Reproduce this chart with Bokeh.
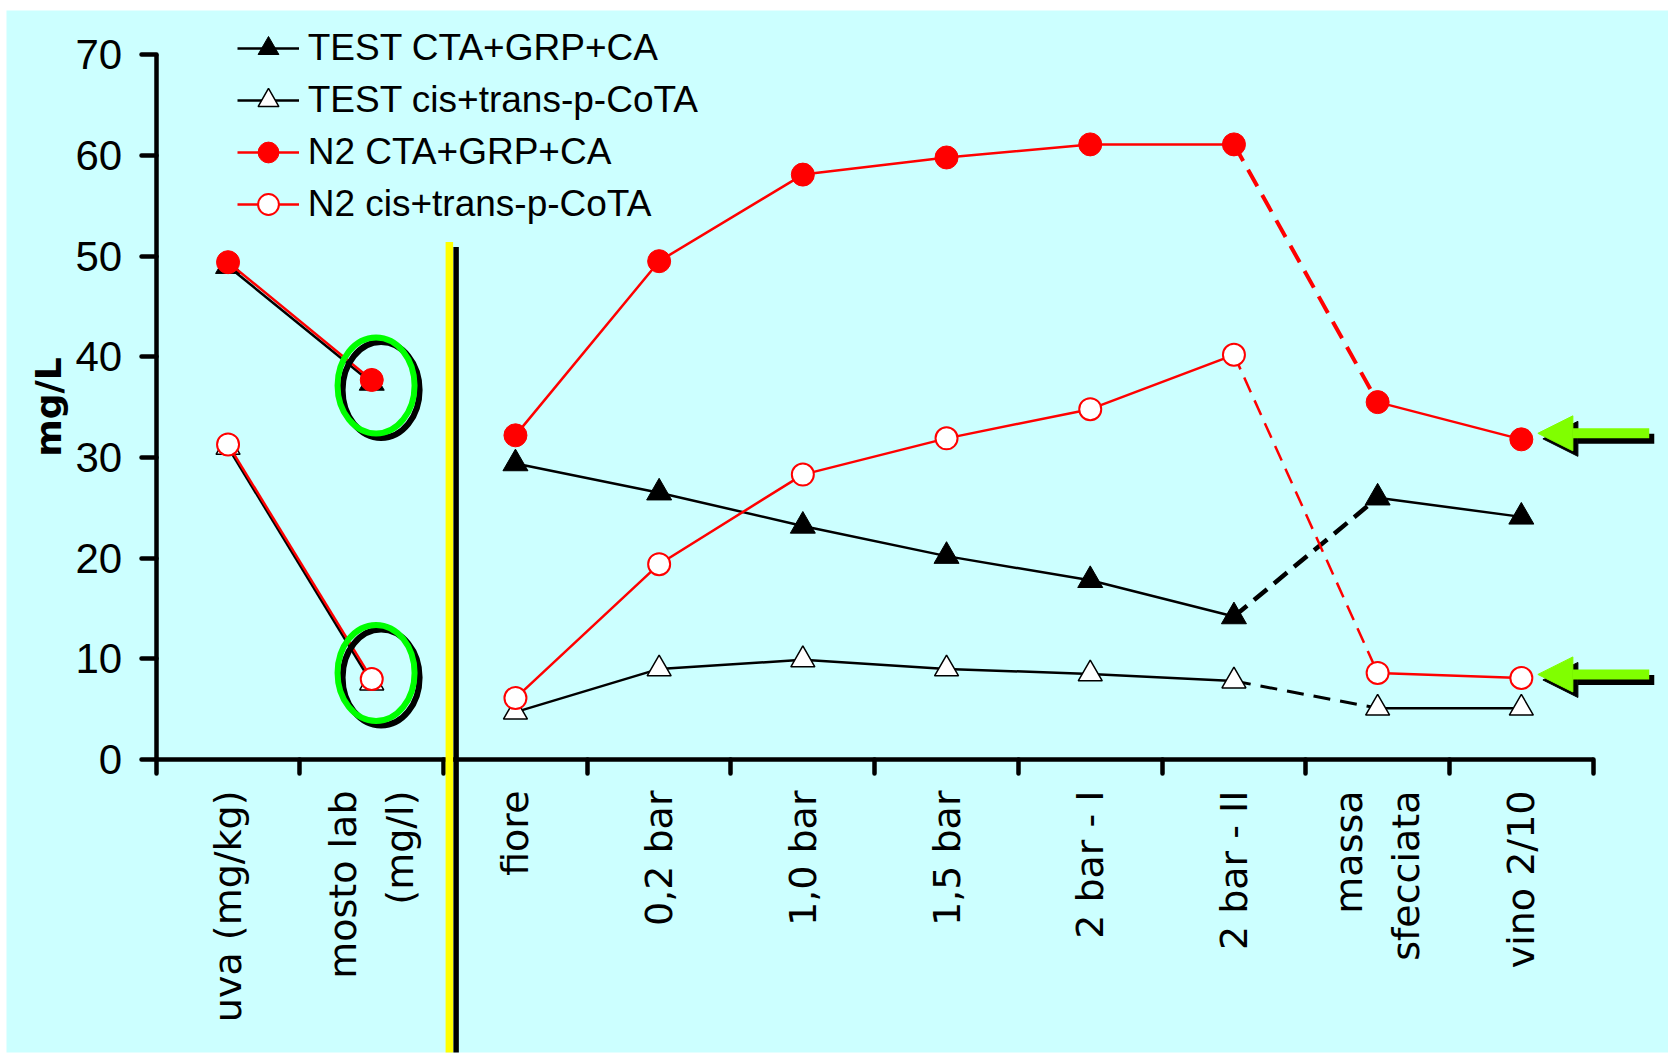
import math
from bokeh.plotting import figure
from bokeh.models import Range1d, FixedTicker, Legend, LegendItem, Arrow, NormalHead
from bokeh.embed import file_html
from bokeh.resources import INLINE

# ---------------- data ----------------
categories = ["uva (mg/kg)", "mosto lab\n(mg/l)", "fiore", "0,2 bar", "1,0 bar",
              "1,5 bar", "2 bar - I", "2 bar - II", "massa\nsfecciata", "vino 2/10"]
test_cta = [49.0, 37.4, 29.4, 26.5, 23.2, 20.2, 17.8, 14.2, 26.0, 24.1]
test_cota = [31.0, 7.6, 4.7, 9.0, 9.9, 9.0, 8.5, 7.8, 5.1, 5.1]
n2_cta = [49.4, 37.7, 32.2, 49.5, 58.1, 59.8, 61.1, 61.1, 35.5, 31.8]
n2_cota = [31.3, 8.0, 6.1, 19.4, 28.3, 31.9, 34.8, 40.2, 8.6, 8.1]
series_names = ["TEST CTA+GRP+CA", "TEST cis+trans-p-CoTA", "N2 CTA+GRP+CA", "N2 cis+trans-p-CoTA"]
y_ticks = [0, 10, 20, 30, 40, 50, 60, 70]
y_label = "mg/L"

# annotation anchors (data units)
separator_x = 2.04
separator_top = 51.4
ellipse_x = 1.53
ellipse_ys = [37.15, 8.6]
arrow_x_tip = 9.615
arrow_x_tail = 10.39
arrow_ys = [32.4, 8.45]

BG = "#CCFFFF"
GREEN = "#00FF00"
LIME = "#80FF00"

W, H = 1668, 1057
x_pos = [i + 0.5 for i in range(len(categories))]

p = figure(width=W, height=H, x_range=Range1d(-1.04175, 10.5241), y_range=Range1d(-29.106, 74.4005),
           output_backend="svg", toolbar_location=None,
           min_border_left=6, min_border_top=10, min_border_right=0, min_border_bottom=5,
           background_fill_color=BG, border_fill_color="white", outline_line_color=None)
p.grid.visible = False

# ---------------- axes ----------------
xa = p.xaxis[0]
xa.fixed_location = 0
xa.bounds = (0, 10)
xa.ticker = FixedTicker(ticks=x_pos, minor_ticks=list(range(0, 11)))
xa.major_label_overrides = {x: c for x, c in zip(x_pos, categories)}
xa.major_tick_out = 0
xa.major_tick_in = 0
xa.major_tick_line_color = None
xa.minor_tick_out = 14
xa.minor_tick_in = 0
xa.minor_tick_line_width = 4.5
xa.minor_tick_line_color = "black"
xa.minor_tick_line_cap = "round"
xa.axis_line_width = 4.5
xa.axis_line_color = "black"
xa.major_label_orientation = math.pi / 2
xa.major_label_standoff = 17
xa.major_label_text_font = "DejaVu Sans"
xa.major_label_text_font_size = "38px"
xa.major_label_text_color = "black"
xa.major_label_text_line_height = 1.3

ya = p.yaxis[0]
ya.fixed_location = 0
ya.bounds = (0, 70)
ya.ticker = FixedTicker(ticks=y_ticks, minor_ticks=[])
ya.major_tick_out = 15
ya.major_tick_in = 0
ya.major_tick_line_width = 4.5
ya.major_tick_line_color = "black"
ya.major_tick_line_cap = "round"
ya.minor_tick_line_color = None
ya.axis_line_width = 4.5
ya.axis_line_color = "black"
ya.major_label_standoff = 19
ya.major_label_text_font = "Liberation Sans"
ya.major_label_text_font_size = "42px"
ya.major_label_text_color = "black"
ya.axis_label = y_label
ya.axis_label_text_font = "DejaVu Sans"
ya.axis_label_text_font_style = "bold"
ya.axis_label_text_font_size = "36px"
ya.axis_label_text_color = "black"
ya.axis_label_standoff = 4

# ---------------- series ----------------
def draw_series(vals, color, lw, dash_lw, dash, marker, size, fill, mline):
    kw = dict(line_color=color, line_width=lw, line_join="round")
    p.line(x_pos[0:2], vals[0:2], **kw)
    main = p.line(x_pos[2:8], vals[2:8], **kw)
    p.line(x_pos[7:9], vals[7:9], line_color=color, line_width=dash_lw, line_dash=dash)
    p.line(x_pos[8:10], vals[8:10], **kw)
    sc = p.scatter(x_pos, vals, marker=marker, size=size, fill_color=fill,
                   line_color=color, line_width=mline)
    return [main, sc]

r1 = draw_series(test_cta, "black", 2.5, 4.5, "17 9", "triangle", 25, "black", 1)
r2 = draw_series(test_cota, "black", 2.5, 3, "17 10", "triangle", 24, "white", 1.5)
r3 = draw_series(n2_cta, "#FF0000", 2.5, 4, "19 10", "circle", 23, "#FF0000", 1)
r4 = draw_series(n2_cota, "#FF0000", 2.5, 2.5, "16 9", "circle", 22, "white", 2)

# ---------------- annotations ----------------
# separator (yellow bar with black shadow)
p.segment(x0=[separator_x + 0.047], y0=[separator_top - 0.5], x1=[separator_x + 0.047],
          y1=[p.y_range.start], line_color="black", line_width=5.5, level="overlay")
p.segment(x0=[separator_x], y0=[separator_top], x1=[separator_x], y1=[p.y_range.start],
          line_color="#FFFF00", line_width=7.5, level="overlay")

# highlight ellipses
p.ellipse(x=[ellipse_x + 0.035] * 2, y=[v - 0.45 for v in ellipse_ys], width=77, height=96,
          width_units="screen", height_units="screen", fill_color=None,
          line_color="black", line_width=6)
p.ellipse(x=[ellipse_x] * 2, y=ellipse_ys, width=77, height=96,
          width_units="screen", height_units="screen", fill_color=None,
          line_color=GREEN, line_width=6)

# arrows
for yv in arrow_ys:
    p.add_layout(Arrow(end=NormalHead(size=35, fill_color="black", line_color="black", line_width=1),
                       x_start=arrow_x_tail + 0.035, y_start=yv - 0.55,
                       x_end=arrow_x_tip + 0.035, y_end=yv - 0.55,
                       line_color="black", line_width=10))
    p.add_layout(Arrow(end=NormalHead(size=35, fill_color=LIME, line_color=LIME, line_width=1),
                       x_start=arrow_x_tail, y_start=yv, x_end=arrow_x_tip, y_end=yv,
                       line_color=LIME, line_width=10))

# ---------------- legend ----------------
legend = Legend(items=[LegendItem(label=n, renderers=r) for n, r in zip(series_names, [r1, r2, r3, r4])],
                location=(230.7, 822.1), glyph_width=62, glyph_height=52, spacing=0,
                label_standoff=9, padding=0, margin=0, border_line_color=None,
                background_fill_alpha=0, label_text_font="Liberation Sans",
                label_text_font_size="37px", label_text_color="black")
p.add_layout(legend)

open("out.html", "w").write(file_html(p, INLINE))
